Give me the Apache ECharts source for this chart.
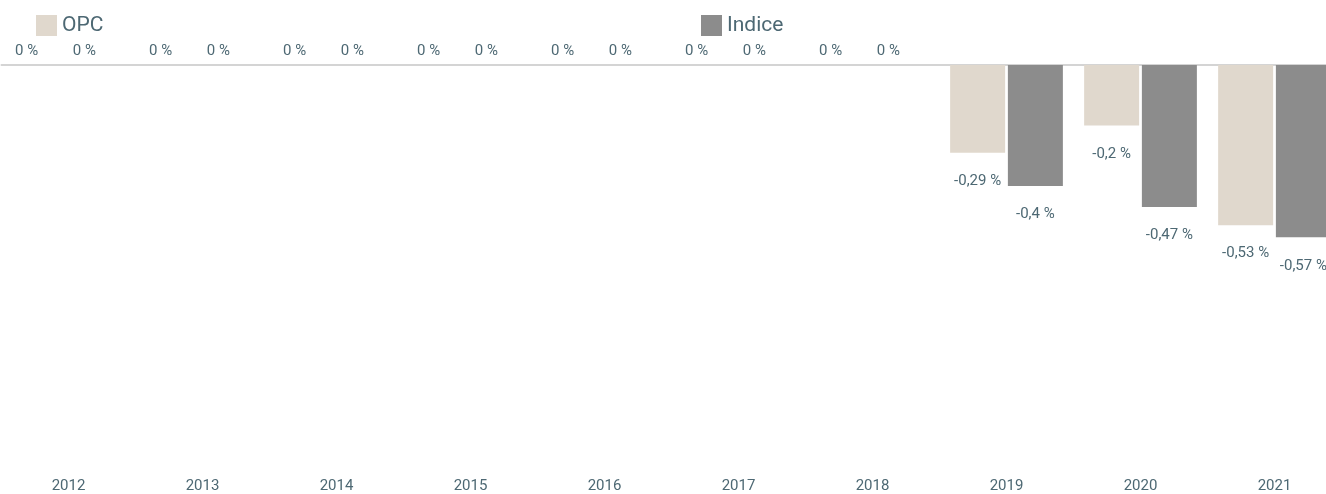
<!DOCTYPE html>
<html>
<head>
<meta charset="utf-8">
<script src="https://cdn.jsdelivr.net/npm/echarts@6/dist/echarts.min.js"></script>
<style>
  html, body { margin: 0; padding: 0; background: #fff; }
  #container { width: 1326px; height: 494px; }
</style>
</head>
<body>
<div id="container"></div>
<script>
var years = ['2012', '2013', '2014', '2015', '2016', '2017', '2018', '2019', '2020', '2021'];
var opcValues = [0, 0, 0, 0, 0, 0, 0, -0.29, -0.2, -0.53];
var indiceValues = [0, 0, 0, 0, 0, 0, 0, -0.4, -0.47, -0.57];

var textColor = '#4d6873';
var fontName = 'Roboto, "Noto Sans", sans-serif';

var dom = document.getElementById('container');
var myChart = echarts.init(dom);

// "-0.29" -> "-0,29 %"
function fmt(v) {
  return String(v).replace('.', ',') + ' %';
}

// zero values get their label above the line, a bit to the left
function buildData(values) {
  return values.map(function (v) {
    if (v === 0) {
      return { value: v, label: { position: 'top', distance: 6, offset: [-13, 0] } };
    }
    return v;
  });
}

var labelStyle = {
  show: true,
  position: 'bottom',
  distance: 21,
  color: textColor,
  fontFamily: fontName,
  fontSize: 15,
  formatter: function (p) { return fmt(p.value); }
};

var option = {
  animation: false,
  textStyle: { fontFamily: fontName },
  legend: [
    {
      data: ['OPC'],
      left: 31, top: 10,
      icon: 'rect', itemWidth: 21, itemHeight: 21, itemGap: 8,
      textStyle: { color: textColor, fontSize: 21, fontFamily: fontName }
    },
    {
      data: ['Indice'],
      left: 696, top: 10,
      icon: 'rect', itemWidth: 21, itemHeight: 21, itemGap: 8,
      textStyle: { color: textColor, fontSize: 21, fontFamily: fontName }
    }
  ],
  grid: {
    left: 1.5, top: 65, width: 1340, height: 405,
    containLabel: false,
    outerBoundsMode: 'none'
  },
  xAxis: [
    {
      type: 'category',
      data: years,
      position: 'top',
      axisLine: { show: true, lineStyle: { color: '#d4d4d4', width: 2 } },
      axisTick: { show: false },
      axisLabel: { show: false }
    },
    {
      type: 'category',
      data: years,
      position: 'bottom',
      axisLine: { show: false },
      axisTick: { show: false },
      axisLabel: { color: textColor, fontSize: 15, fontFamily: fontName, margin: 9 }
    }
  ],
  yAxis: {
    type: 'value',
    min: -1.34,
    max: 0,
    show: false,
    splitLine: { show: false }
  },
  series: [
    {
      name: 'OPC',
      type: 'bar',
      xAxisIndex: 0,
      barWidth: 55,
      barGap: '5%',
      itemStyle: { color: '#e0d8cd' },
      label: labelStyle,
      data: buildData(opcValues)
    },
    {
      name: 'Indice',
      type: 'bar',
      xAxisIndex: 0,
      barWidth: 55,
      barGap: '5%',
      itemStyle: { color: '#8c8c8c' },
      label: labelStyle,
      data: buildData(indiceValues)
    }
  ]
};

myChart.setOption(option);
</script>
</body>
</html>
